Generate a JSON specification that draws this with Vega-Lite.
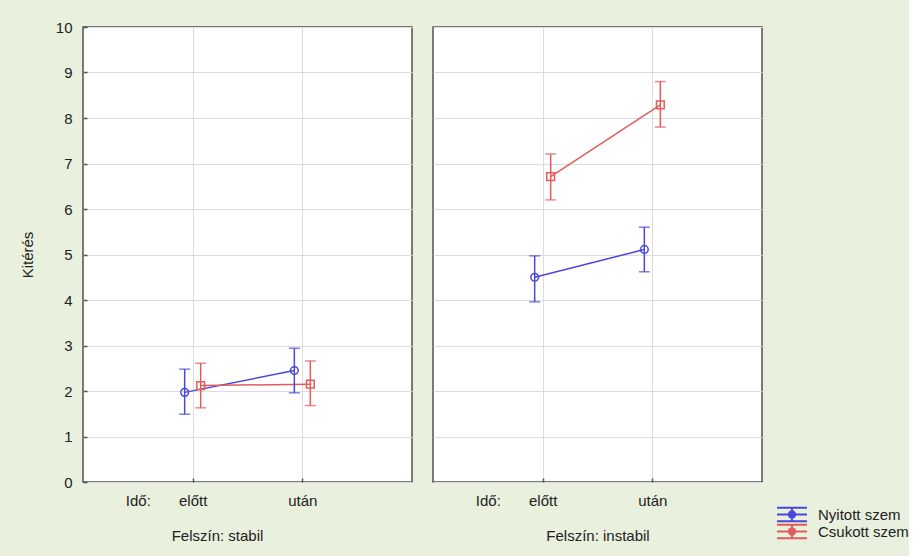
{
  "$schema": "https://vega.github.io/schema/vega-lite/v6.json",
  "background": "#e9f0de",
  "padding": {"left": 19, "top": 19, "right": 0, "bottom": 14},
  "datasets": {
    "d": [
      {"felszin": "stabil", "ido": "előtt", "t": 1, "szem": "Nyitott szem", "mean": 1.97, "lo": 1.49, "hi": 2.48},
      {"felszin": "stabil", "ido": "után", "t": 2, "szem": "Nyitott szem", "mean": 2.45, "lo": 1.96, "hi": 2.94},
      {"felszin": "stabil", "ido": "előtt", "t": 1, "szem": "Csukott szem", "mean": 2.12, "lo": 1.63, "hi": 2.61},
      {"felszin": "stabil", "ido": "után", "t": 2, "szem": "Csukott szem", "mean": 2.15, "lo": 1.68, "hi": 2.66},
      {"felszin": "instabil", "ido": "előtt", "t": 1, "szem": "Nyitott szem", "mean": 4.50, "lo": 3.96, "hi": 4.97},
      {"felszin": "instabil", "ido": "után", "t": 2, "szem": "Nyitott szem", "mean": 5.11, "lo": 4.62, "hi": 5.60},
      {"felszin": "instabil", "ido": "előtt", "t": 1, "szem": "Csukott szem", "mean": 6.71, "lo": 6.20, "hi": 7.21},
      {"felszin": "instabil", "ido": "után", "t": 2, "szem": "Csukott szem", "mean": 8.29, "lo": 7.80, "hi": 8.80}
    ]
  },
  "data": {"name": "d"},
  "spacing": 19,
  "resolve": {"scale": {"color": "shared", "y": "shared"}},
  "hconcat": [
    {
      "width": 329,
      "height": 455,
      "transform": [{"filter": "datum.felszin === 'stabil'"}],
      "encoding": {
        "x": {"field": "t", "type": "quantitative", "scale": {"domain": [0, 3], "nice": false},
          "axis": {"values": [0.5, 1, 2], "labelExpr": "datum.value == 0.5 ? 'Idő:' : datum.value == 1 ? 'előtt' : 'után'",
            "gridOpacity": {"condition": {"test": "datum.value == 0.5", "value": 0}, "value": 1},
            "tickOpacity": {"condition": {"test": "datum.value == 0.5", "value": 0}, "value": 1},
            "title": "Felszín: stabil", "titleX": 134}},
        "color": {"field": "szem", "type": "nominal", "scale": {"domain": ["Nyitott szem", "Csukott szem"], "range": ["#4848dc", "#e05c5c"]},
          "legend": {"title": null,
            "symbolType": "M-1,-0.45H1M-1,0H1M-1,0.45H1M0,-0.45V0.45M0.22,0A0.22,0.22,0,1,1,-0.22,0A0.22,0.22,0,1,1,0.22,0",
            "symbolSize": 900,
            "symbolFillColor": "transparent",
            "symbolOpacity": 1,
            "symbolStrokeWidth": 1.8}}
      },
      "layer": [
        {"mark": {"type": "line", "strokeWidth": 1.5, "xOffset": {"expr": "datum.szem === 'Nyitott szem' ? -8 : 8"}},
          "encoding": {"y": {"field": "mean", "type": "quantitative", "title": "Kitérés", "scale": {"domain": [0, 10], "nice": false},
            "axis": {"values": [0,1,2,3,4,5,6,7,8,9,10]}}}},
        {"mark": {"type": "rule", "strokeWidth": 1.5, "xOffset": {"expr": "datum.szem === 'Nyitott szem' ? -8 : 8"}},
          "encoding": {"y": {"field": "lo", "type": "quantitative", "title": "Kitérés"}, "y2": {"field": "hi"}}},
        {"mark": {"type": "tick", "orient": "horizontal", "size": 11, "thickness": 1.5, "xOffset": {"expr": "datum.szem === 'Nyitott szem' ? -8 : 8"}},
          "encoding": {"y": {"field": "lo", "type": "quantitative", "title": "Kitérés"}}},
        {"mark": {"type": "tick", "orient": "horizontal", "size": 11, "thickness": 1.5, "xOffset": {"expr": "datum.szem === 'Nyitott szem' ? -8 : 8"}},
          "encoding": {"y": {"field": "hi", "type": "quantitative", "title": "Kitérés"}}},
        {"mark": {"type": "point", "filled": false, "size": 60, "strokeWidth": 1.5, "opacity": 1,
            "shape": {"expr": "datum.szem === 'Csukott szem' ? 'square' : 'circle'"},
            "xOffset": {"expr": "datum.szem === 'Nyitott szem' ? -8 : 8"}},
          "encoding": {"y": {"field": "mean", "type": "quantitative", "title": "Kitérés"}}}
      ]
    },
    {
      "width": 329,
      "height": 455,
      "transform": [{"filter": "datum.felszin === 'instabil'"}],
      "encoding": {
        "x": {"field": "t", "type": "quantitative", "scale": {"domain": [0, 3], "nice": false},
          "axis": {"values": [0.5, 1, 2], "labelExpr": "datum.value == 0.5 ? 'Idő:' : datum.value == 1 ? 'előtt' : 'után'",
            "gridOpacity": {"condition": {"test": "datum.value == 0.5", "value": 0}, "value": 1},
            "tickOpacity": {"condition": {"test": "datum.value == 0.5", "value": 0}, "value": 1},
            "title": "Felszín: instabil"}},
        "color": {"field": "szem", "type": "nominal", "scale": {"domain": ["Nyitott szem", "Csukott szem"], "range": ["#4848dc", "#e05c5c"]},
          "legend": {"title": null,
            "symbolType": "M-1,-0.45H1M-1,0H1M-1,0.45H1M0,-0.45V0.45M0.22,0A0.22,0.22,0,1,1,-0.22,0A0.22,0.22,0,1,1,0.22,0",
            "symbolSize": 900,
            "symbolFillColor": "transparent",
            "symbolOpacity": 1,
            "symbolStrokeWidth": 1.8}}
      },
      "layer": [
        {"mark": {"type": "line", "strokeWidth": 1.5, "xOffset": {"expr": "datum.szem === 'Nyitott szem' ? -8 : 8"}},
          "encoding": {"y": {"field": "mean", "type": "quantitative", "title": null, "scale": {"domain": [0, 10], "nice": false},
            "axis": {"values": [0,1,2,3,4,5,6,7,8,9,10], "labels": false, "ticks": false, "labelPadding": 0}}}},
        {"mark": {"type": "rule", "strokeWidth": 1.5, "xOffset": {"expr": "datum.szem === 'Nyitott szem' ? -8 : 8"}},
          "encoding": {"y": {"field": "lo", "type": "quantitative", "title": null}, "y2": {"field": "hi"}}},
        {"mark": {"type": "tick", "orient": "horizontal", "size": 11, "thickness": 1.5, "xOffset": {"expr": "datum.szem === 'Nyitott szem' ? -8 : 8"}},
          "encoding": {"y": {"field": "lo", "type": "quantitative", "title": null}}},
        {"mark": {"type": "tick", "orient": "horizontal", "size": 11, "thickness": 1.5, "xOffset": {"expr": "datum.szem === 'Nyitott szem' ? -8 : 8"}},
          "encoding": {"y": {"field": "hi", "type": "quantitative", "title": null}}},
        {"mark": {"type": "point", "filled": false, "size": 60, "strokeWidth": 1.5, "opacity": 1,
            "shape": {"expr": "datum.szem === 'Csukott szem' ? 'square' : 'circle'"},
            "xOffset": {"expr": "datum.szem === 'Nyitott szem' ? -8 : 8"}},
          "encoding": {"y": {"field": "mean", "type": "quantitative", "title": null}}}
      ]
    }
  ],
  "config": {
    "font": "Liberation Sans",
    "view": {"fill": "white", "stroke": "#505050", "strokeWidth": 1.5},
    "axis": {
      "domain": false,
      "gridColor": "#dcdcdc",
      "gridWidth": 1,
      "tickColor": "#505050",
      "tickSize": -4,
      "tickWidth": 1.5,
      "labelFont": "Liberation Sans",
      "labelFontSize": 15,
      "labelColor": "#222222",
      "titleFont": "Liberation Sans",
      "titleFontSize": 15,
      "titleFontWeight": "normal",
      "titleColor": "#222222"
    },
    "axisX": {"labelPadding": 15, "titlePadding": 20},
    "axisY": {"labelPadding": 15, "titlePadding": 20},
    "legend": {
      "orient": "none",
      "legendX": 693,
      "legendY": 479,
      "clipHeight": 17,
      "rowPadding": 0,
      "labelFont": "Liberation Sans",
      "labelFontSize": 15,
      "labelColor": "#222222",
      "labelOffset": 10
    }
  }
}
